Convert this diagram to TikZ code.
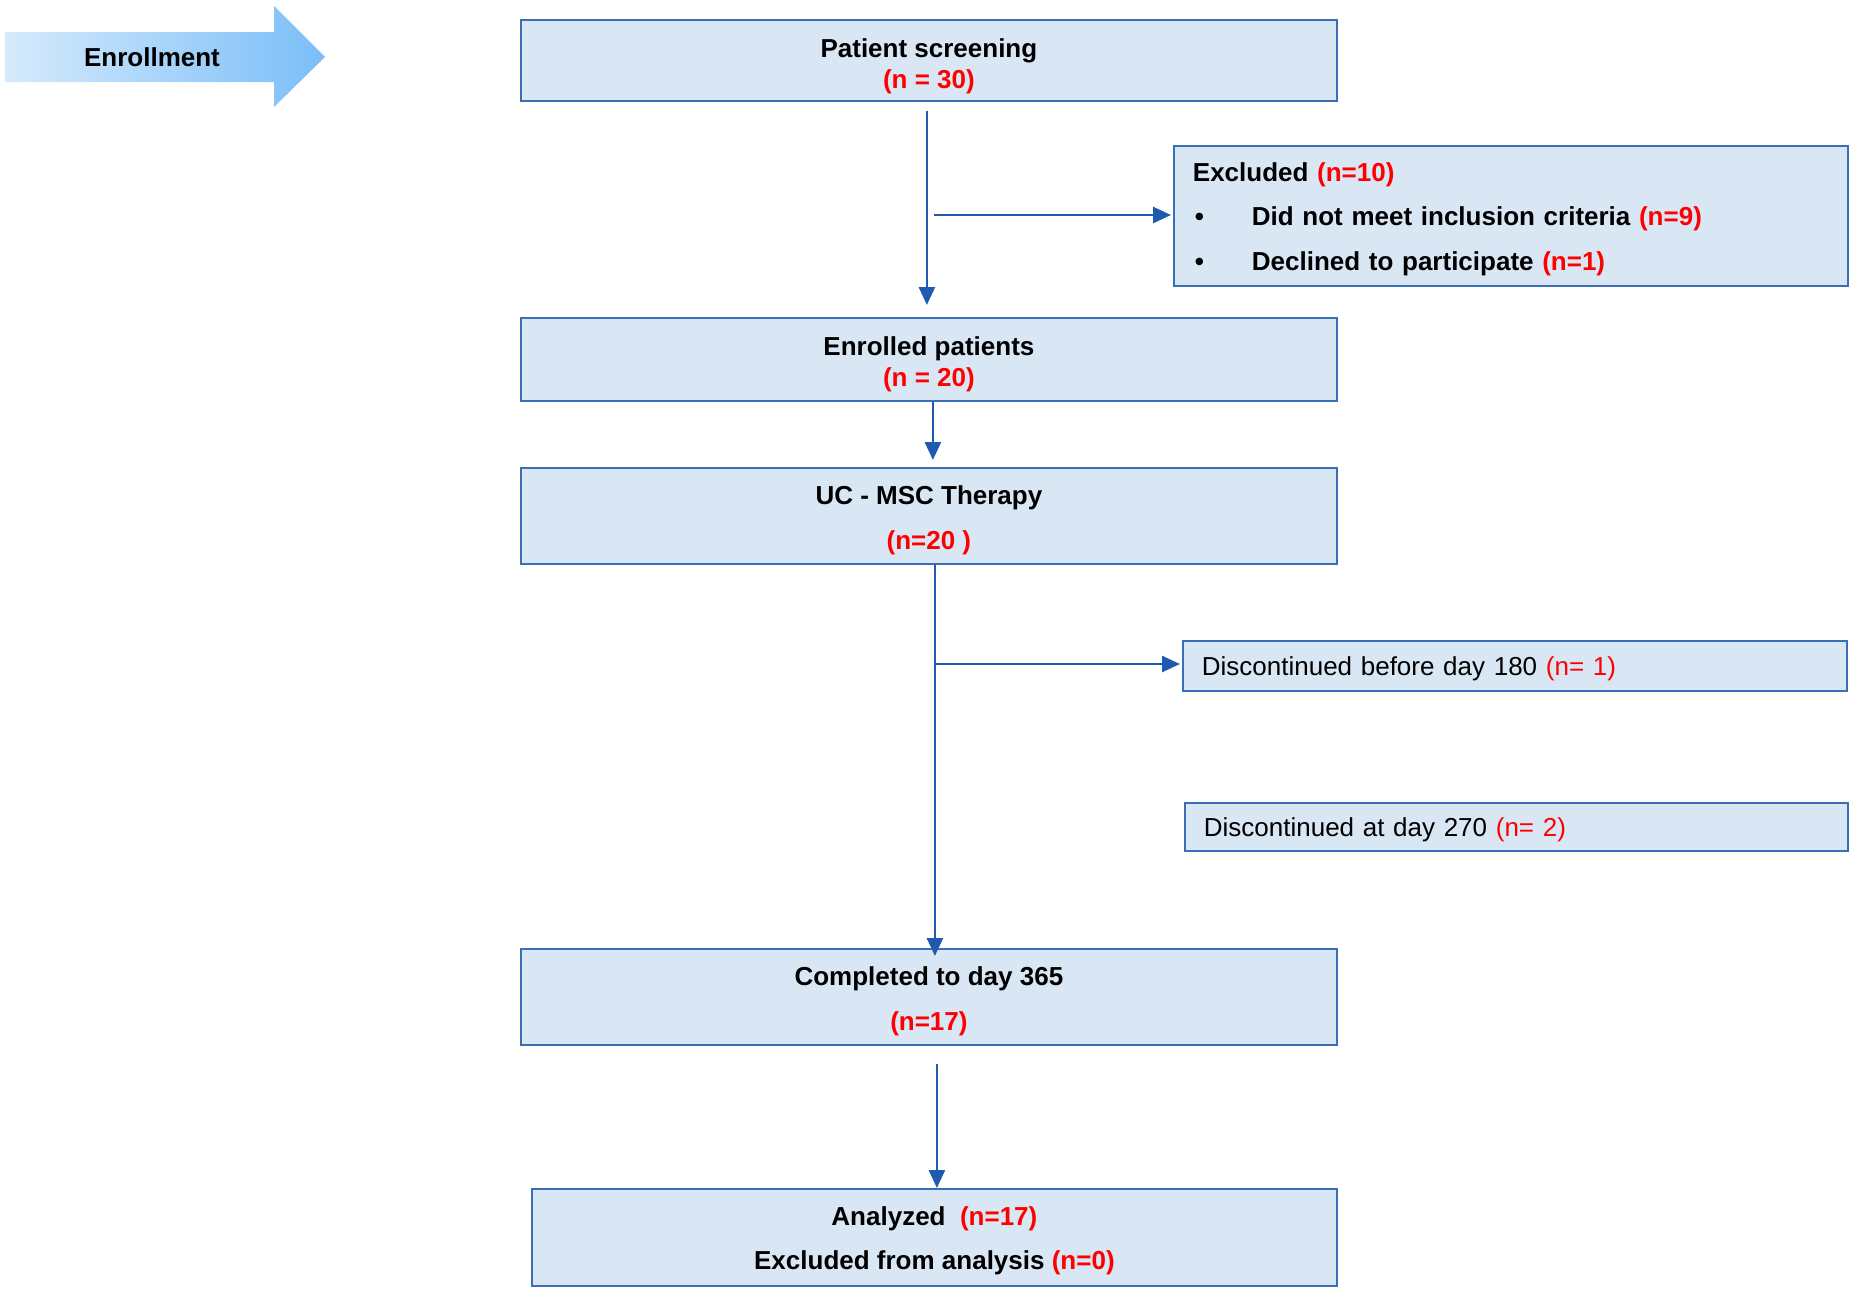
\documentclass[tikz,border=0pt]{standalone}
\usepackage{fontspec}
\setmainfont{Liberation Sans}
\usetikzlibrary{arrows.meta,calc}
\definecolor{boxfill}{RGB}{217,231,245}
\definecolor{boxdraw}{RGB}{58,111,181}
\definecolor{conncol}{RGB}{30,91,176}
\definecolor{nred}{RGB}{255,0,0}
\newcommand{\nr}[1]{\textcolor{nred}{#1}}
\newcommand{\dn}[1]{\rule{0pt}{#1}}
\tikzset{
  box/.style={draw=boxdraw, fill=boxfill, line width=1.8pt, anchor=north west, inner sep=0pt, font=\fontsize{26}{31}\selectfont\bfseries, align=center},
  sidebox/.style={draw=boxdraw, fill=boxfill, line width=1.8pt, anchor=north west, inner xsep=19pt, inner ysep=0pt, font=\fontsize{26}{31}\selectfont, align=left, text ragged},
  conn/.style={draw=conncol, line width=2.6pt, -{Triangle[length=18pt,width=16pt]}}
}
\begin{document}
\begin{tikzpicture}[x=1pt,y=-1pt]
\useasboundingbox (0,0) rectangle (1854,1291);
% Enrollment arrow
\path[left color={rgb,255:red,214;green,234;blue,252}, right color={rgb,255:red,122;green,190;blue,248}, shading angle=90]
  (5,32) -- (274,32) -- (274,6) -- (325,57) -- (274,107) -- (274,82) -- (5,82) -- cycle;
\node[font=\fontsize{26}{31}\selectfont\bfseries] (enr) at (152,57) {Enrollment};
% Main boxes
\node[box, minimum width=816pt, minimum height=81pt] (ps) at (520,19) {\dn{30pt}Patient screening\\\nr{(n = 30)}};
\node[box, minimum width=816pt, minimum height=83pt] (en) at (520,317) {\dn{28pt}Enrolled patients\\\nr{(n = 20)}};
\node[box, minimum width=816pt, minimum height=96pt, font=\fontsize{26}{45}\selectfont\bfseries] (uc) at (520,467) {\dn{27pt}UC - MSC Therapy\\\nr{(n=20 )}};
\node[box, minimum width=816pt, minimum height=96pt, font=\fontsize{26}{45}\selectfont\bfseries] (co) at (520,948) {\dn{27pt}Completed to day 365\\\nr{(n=17)}};
\node[box, minimum width=805pt, minimum height=97pt, font=\fontsize{26}{44}\selectfont\bfseries] (an) at (531,1188) {\dn{25pt}Analyzed\ \ \nr{(n=17)}\\Excluded from analysis \nr{(n=0)}};
% Side boxes
\node[sidebox, text width=636pt, minimum height=140pt, font=\fontsize{26}{44.5}\selectfont\bfseries] (ex) at (1173,145)
  {\dn{25pt}Excluded \nr{(n=10)}\\\makebox[59pt][l]{\hspace{2pt}•}Did not meet inclusion criteria \nr{(n=9)}\\\makebox[59pt][l]{\hspace{2pt}•}Declined to participate \nr{(n=1)}};
\node[sidebox, text width=626pt, minimum height=50pt] (d1) at (1182,640) {\dn{25pt}Discontinued before day 180 \nr{(n= 1)}};
\node[sidebox, text width=625pt, minimum height=48pt] (d2) at (1184,802) {\dn{25pt}Discontinued at day 270 \nr{(n= 2)}};
% Connectors
\draw[conn, shorten <=9pt, shorten >=12pt] ([xshift=-2pt]ps.south) -- ([xshift=-2pt]en.north);
\coordinate (b1) at (934,215);
\draw[conn, shorten >=2pt] (b1) -- (b1 -| ex.west);
\draw[conn, shorten >=7pt] ([xshift=4pt]en.south) -- ([xshift=4pt]en.south |- uc.north);
\draw[conn, shorten >=-8pt] ([xshift=6pt]uc.south) -- ([xshift=6pt]co.north);
\coordinate (b2) at (936,664);
\draw[conn, shorten >=2pt] (b2) -- (b2 -| d1.west);
\draw[conn, shorten <=18pt] ([xshift=8pt]co.south) -- ([xshift=8pt]co.south |- an.north);
\end{tikzpicture}
\end{document}
